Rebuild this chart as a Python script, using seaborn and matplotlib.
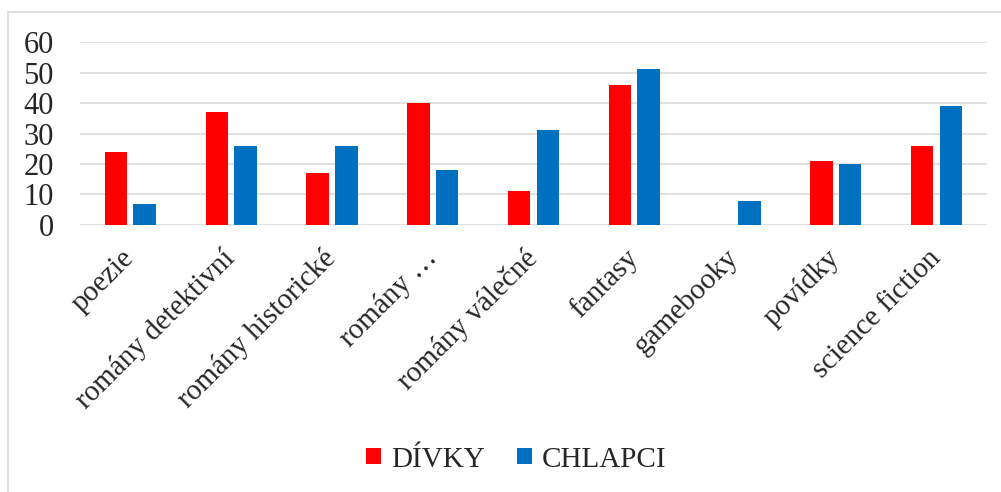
import matplotlib
matplotlib.use("Agg")
import matplotlib.pyplot as plt
from matplotlib.patches import Patch
from matplotlib.lines import Line2D
import seaborn as sns
import pandas as pd

# Reading preferences by genre: girls vs. boys
categories = ["poezie", "romány detektivní", "romány historické", "romány …",
              "romány válečné", "fantasy", "gamebooky", "povídky", "science fiction"]
divky = [24, 37, 17, 40, 11, 46, 0, 21, 26]
chlapci = [7, 26, 26, 18, 31, 51, 8, 20, 39]
series_names = ["DÍVKY", "CHLAPCI"]
colors = ["#FF0000", "#0070C0"]
yticks = [0, 10, 20, 30, 40, 50, 60]

df = pd.DataFrame({
    "kategorie": categories * 2,
    "skupina": [series_names[0]] * len(categories) + [series_names[1]] * len(categories),
    "hodnota": divky + chlapci,
})

sns.set_theme(style="white")
plt.rcParams["font.family"] = ["Liberation Serif", "DejaVu Serif"]

fig = plt.figure(figsize=(10.01, 4.92), dpi=100)
ax = fig.add_axes([0.0799, 0.5427, 0.9061, 0.3719])

sns.barplot(data=df, x="kategorie", y="hodnota", hue="skupina",
            palette=colors, saturation=1, width=0.57, gap=0.216, ax=ax,
            linewidth=0, legend=False, errorbar=None)

ax.set_ylim(0, 60)
ax.set_xlim(-0.5, len(categories) - 0.5)
ax.set_yticks(yticks)
ax.set_yticklabels([str(v) for v in yticks], fontsize=22)
ax.yaxis.grid(True, color="#d9d9d9", linewidth=1.1)
ax.set_axisbelow(True)
for s in ax.spines.values():
    s.set_visible(False)
ax.tick_params(axis="y", length=0, pad=19)
ax.tick_params(axis="x", length=0, pad=21)
ax.set_xlabel("")
ax.set_ylabel("")
ax.set_xticks(range(len(categories)))
ax.set_xticklabels(categories, rotation=45, ha="right", va="center",
                   rotation_mode="anchor", fontsize=21)

handles = [Patch(facecolor=c, edgecolor="none") for c in colors]
fig.legend(handles, series_names, loc="center", bbox_to_anchor=(0.516, 0.066),
           ncol=2, frameon=False, fontsize=21, handlelength=0.5,
           handleheight=0.5, handletextpad=0.35, columnspacing=1.1)

# chart frame (top and left edges)
fig.add_artist(Line2D([8 / 1001, 1.0], [1 - 12 / 492, 1 - 12 / 492],
                      transform=fig.transFigure, color="#d9d9d9", linewidth=1.2))
fig.add_artist(Line2D([8 / 1001, 8 / 1001], [0.0, 1 - 12 / 492],
                      transform=fig.transFigure, color="#d9d9d9", linewidth=1.2))

fig.savefig("out.png", dpi=100, facecolor="white")
